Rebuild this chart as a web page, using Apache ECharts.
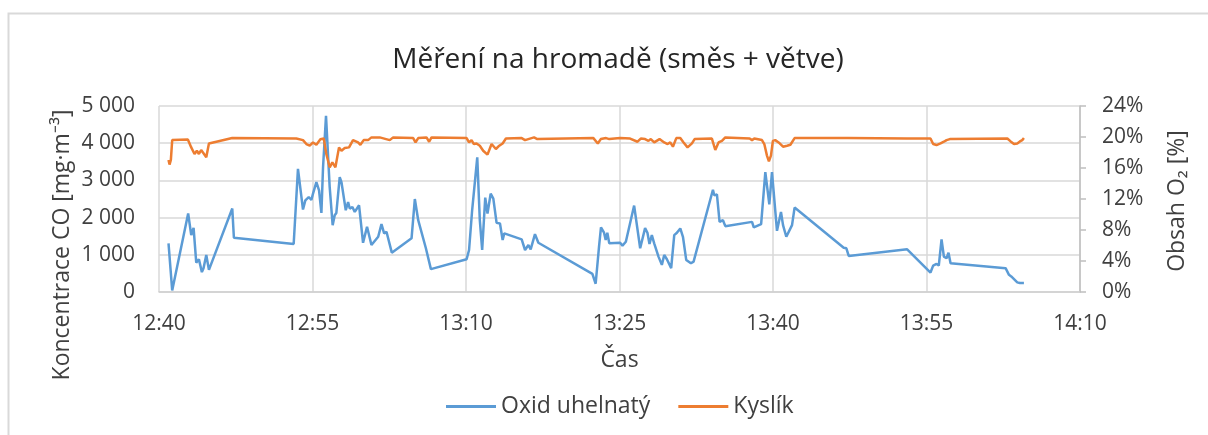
<!DOCTYPE html>
<html>
<head>
<meta charset="utf-8">
<script src="https://cdn.jsdelivr.net/npm/echarts@6/dist/echarts.min.js"></script>
<style>
  html, body { margin: 0; padding: 0; background: #fff; }
  #chart { width: 1208px; height: 435px; }
</style>
</head>
<body>
<div id="chart"></div>
<script>
"use strict";

// čas = minuty od 12:40
let timeLabels = ["12:40", "12:55", "13:10", "13:25", "13:40", "13:55", "14:10"];

// Oxid uhelnatý [mg/m3]
let coMin = [0.93, 1.29, 2.85, 3.15, 3.38, 3.64, 3.90, 4.19, 4.35, 4.62, 4.88,
  7.16, 7.32,
  13.16, 13.58, 14.07, 14.30, 14.63, 14.89, 15.05, 15.38, 15.64, 15.87, 16.03,
  16.32, 16.68, 16.97, 17.17, 17.33, 17.66, 17.83, 18.25, 18.48, 18.64,
  18.90, 19.13, 19.30, 19.55, 19.94, 20.33, 20.76, 21.42, 21.74, 22.00, 22.23, 22.40, 22.75,
  24.68, 25.00, 25.33, 26.08, 26.57,
  30.06, 30.30, 30.60, 31.10, 31.35, 31.58, 31.88, 32.10, 32.41, 32.67, 32.99, 33.32, 33.58, 33.74,
  35.44, 35.77, 36.10, 36.32, 36.74, 37.07,
  42.35, 42.67, 43.00, 43.19, 43.49, 43.65, 43.81, 44.00,
  45.06, 45.29, 45.62,
  46.43, 47.02, 47.50, 47.73, 47.93, 48.16, 48.39,
  48.81, 49.14, 49.37, 49.63, 50.05, 50.35, 50.61, 50.94, 51.20, 51.52, 51.98, 52.24,
  54.13, 54.26, 54.52, 54.78, 55.11, 55.34,
  57.95, 58.12, 58.84,
  59.25, 59.64, 59.90, 60.39, 60.78, 60.98, 61.30, 61.86, 62.11,
  66.91, 67.17, 67.40,
  73.11,
  75.39, 75.65, 75.98, 76.20, 76.47, 76.70, 76.96, 77.15, 77.35,
  82.73, 83.06, 83.28, 83.87, 84.13, 84.26, 84.52];
let coVal = [1308, 43, 2109, 1530, 1725, 790, 881, 534, 641, 996, 595,
  2243, 1458,
  1290, 3311, 2216, 2464, 2553, 2474, 2643, 2953, 2731, 2126, 3354,
  4734, 2820, 1797, 2064, 2126, 3087, 2953, 2197, 2419, 2243,
  2286, 2152, 2109, 2331, 1324, 1752, 1263, 1485, 1824, 1575, 1620, 1593, 1057,
  1442, 2499, 1930, 1175, 614,
  881, 1129, 2197, 3621, 1930, 1129, 2536, 2109, 2643, 2509, 1858, 1840, 1396, 1575,
  1415, 1129, 1263, 1147, 1557, 1324,
  489, 222, 1218, 1735, 1593, 1396, 1593, 1308,
  1324, 1246, 1352,
  2323, 1175, 1717, 1593, 1290, 1530, 1308,
  951, 729, 996, 881, 641, 1530, 1593, 1708, 1485, 862, 774, 818,
  2750, 2599, 2625, 1885, 1930, 1770,
  1885, 1735, 1824,
  3220, 2358, 3220, 1645, 2152, 1797, 1485, 1797, 2269,
  1191, 1175, 969,
  1148,
  523, 710, 756, 710, 1415, 951, 907, 1057, 774,
  641, 462, 418, 258, 240, 267, 240];

// Kyslík [%]
let o2Min = [0.93, 1.03, 1.16, 1.29, 2.82, 3.15, 3.47, 3.70, 3.90, 4.12, 4.35, 4.62, 4.88,
  7.16, 13.42, 14.07, 14.40, 14.73, 15.05, 15.38, 15.77, 16.10,
  16.35, 16.68, 16.94, 17.24, 17.59, 17.83, 18.15, 18.57, 18.96, 19.45, 19.68,
  20.00, 20.43, 20.76, 21.57, 22.55, 22.88, 24.84, 25.07, 25.33, 26.14, 26.40, 26.63,
  30.06, 30.30, 30.54, 30.77, 31.03, 31.35, 31.68, 32.10, 32.50, 32.92, 33.25, 33.58, 33.90,
  35.44, 35.77, 36.41, 36.65, 36.97, 42.45, 42.88, 43.17, 43.69, 44.00,
  45.06, 46.04, 46.76, 47.08, 47.50, 47.83, 48.06, 48.39, 48.91, 49.37, 49.70, 49.96, 50.22,
  50.55, 50.94, 51.26, 51.65, 52.08, 52.34, 54.03, 54.36, 54.68, 55.01, 55.34,
  57.72, 57.95, 58.17,
  58.92, 59.15, 59.41, 59.60, 59.80, 59.99, 60.22, 60.55, 60.98, 61.37, 61.70, 62.11,
  66.91, 67.10, 67.30, 73.11, 73.30, 73.50,
  75.39, 75.65, 75.98, 76.37, 76.70, 76.96, 77.28,
  82.90, 83.22, 83.55, 83.87, 84.13, 84.36, 84.52];
let o2Val = [17.04, 16.44, 17.04, 19.6, 19.68, 18.66, 17.81, 18.23, 17.81, 18.32, 17.9, 17.38, 19.17,
  19.86, 19.8, 19.6, 19.09, 18.88, 19.3, 19.0, 19.7, 19.8,
  17.81, 16.09, 16.73, 16.09, 18.66, 18.23, 18.57, 18.66, 19.6, 19.3, 19.0,
  19.6, 19.6, 19.95, 19.95, 19.6, 19.95, 19.86, 19.3, 19.86, 19.95, 19.39, 19.95,
  19.86, 19.3, 19.6, 19.09, 19.17, 18.88, 18.23, 17.72, 19.09, 18.45, 18.88, 19.17, 19.8,
  19.86, 19.6, 19.86, 19.95, 19.73, 19.86, 19.17, 19.73, 19.86, 19.73,
  19.86, 19.8, 19.39, 19.8, 19.73, 19.5, 19.73, 19.3, 19.73, 19.3, 19.09, 19.3, 18.75,
  19.86, 19.86, 19.3, 18.66, 19.17, 19.73, 19.8, 18.32, 19.3, 19.5, 19.95,
  19.8, 19.6, 19.8,
  19.6, 19.09, 17.6, 16.86, 17.6, 19.5, 19.6, 19.3, 18.75, 18.88, 19.0, 19.86,
  19.86, 19.7, 19.86, 19.8, 19.6, 19.8,
  19.8, 19.09, 18.96, 19.17, 19.39, 19.6, 19.73,
  19.8, 19.43, 19.09, 19.17, 19.43, 19.6, 19.86];

let FONT = "'Open Sans', sans-serif";
let TEXT = "#404040";

function pairs(xs, ys) {
  let out = [];
  for (let i = 0; i < xs.length; i++) {
    out.push([xs[i], ys[i]]);
  }
  return out;
}

let chart = echarts.init(document.getElementById("chart"), null, { renderer: "canvas" });

chart.setOption({
  animation: false,
  backgroundColor: "#fff",
  textStyle: { fontFamily: FONT },
  title: {
    text: "Měření na hromadě (směs + větve)",
    left: 613,
    textAlign: "center",
    top: 41,
    textStyle: { fontFamily: FONT, fontSize: 28, fontWeight: "normal", color: "#262626" }
  },
  grid: { left: 159, right: 128, top: 106, bottom: 143 },
  legend: {
    left: 441,
    top: 390,
    itemWidth: 50,
    itemHeight: 3,
    itemGap: 28,
    icon: "rect",
    textStyle: { fontFamily: FONT, fontSize: 23, color: TEXT },
    data: ["Oxid uhelnatý", "Kyslík"]
  },
  xAxis: {
    type: "value",
    min: 0,
    max: 90,
    interval: 15,
    name: "Čas",
    nameLocation: "middle",
    nameGap: 57,
    nameTextStyle: { fontFamily: FONT, fontSize: 23, color: TEXT },
    axisLine: { show: true, lineStyle: { color: "#d0d0d0", width: 1.5 } },
    axisTick: { show: false },
    axisLabel: {
      margin: 22,
      fontFamily: FONT,
      fontSize: 21,
      color: TEXT,
      formatter: function (v) { return timeLabels[Math.round(v / 15)]; }
    },
    splitLine: { show: true, lineStyle: { color: "#d9d9d9", width: 1.5 } }
  },
  yAxis: [
    {
      type: "value",
      min: 0,
      max: 5000,
      interval: 1000,
      axisLine: { show: false },
      axisTick: { show: false },
      axisLabel: {
        margin: 24,
        fontFamily: FONT,
        fontSize: 21,
        color: TEXT,
        formatter: function (v) {
          return v >= 1000 ? Math.floor(v / 1000) + " " + String(v % 1000).padStart(3, "0") : String(v);
        }
      },
      splitLine: { show: true, lineStyle: { color: "#d9d9d9", width: 1.5 } }
    },
    {
      type: "value",
      min: 0,
      max: 24,
      interval: 4,
      position: "right",
      axisLine: { show: true, lineStyle: { color: "#bfbfbf", width: 1.5 } },
      axisTick: { show: true, inside: false, length: 6, lineStyle: { color: "#bfbfbf", width: 1.5 } },
      axisLabel: {
        margin: 22,
        fontFamily: FONT,
        fontSize: 21,
        color: TEXT,
        formatter: "{value}%"
      },
      splitLine: { show: false }
    }
  ],
  graphic: [
    {
      type: "rect",
      shape: { x: 8.5, y: 13.5, width: 1300, height: 500 },
      style: { fill: "none", stroke: "#d9d9d9", lineWidth: 2 },
      silent: true
    },
    {
      type: "text",
      x: 62,
      y: 245,
      rotation: Math.PI / 2,
      style: {
        text: "Koncentrace CO [mg·m⁻³]",
        fontFamily: FONT,
        fontSize: 23,
        fill: TEXT,
        align: "center",
        verticalAlign: "middle"
      }
    },
    {
      type: "text",
      x: 1177,
      y: 201,
      rotation: Math.PI / 2,
      style: {
        text: "Obsah O₂ [%]",
        fontFamily: FONT,
        fontSize: 23,
        fill: TEXT,
        align: "center",
        verticalAlign: "middle"
      }
    }
  ],
  series: [
    {
      name: "Oxid uhelnatý",
      type: "line",
      yAxisIndex: 0,
      showSymbol: false,
      symbol: "none",
      color: "#5b9bd5",
      lineStyle: { width: 2.5, color: "#5b9bd5" },
      data: pairs(coMin, coVal)
    },
    {
      name: "Kyslík",
      type: "line",
      yAxisIndex: 1,
      showSymbol: false,
      symbol: "none",
      color: "#ed7d31",
      lineStyle: { width: 2.5, color: "#ed7d31" },
      data: pairs(o2Min, o2Val)
    }
  ]
});
</script>
</body>
</html>
